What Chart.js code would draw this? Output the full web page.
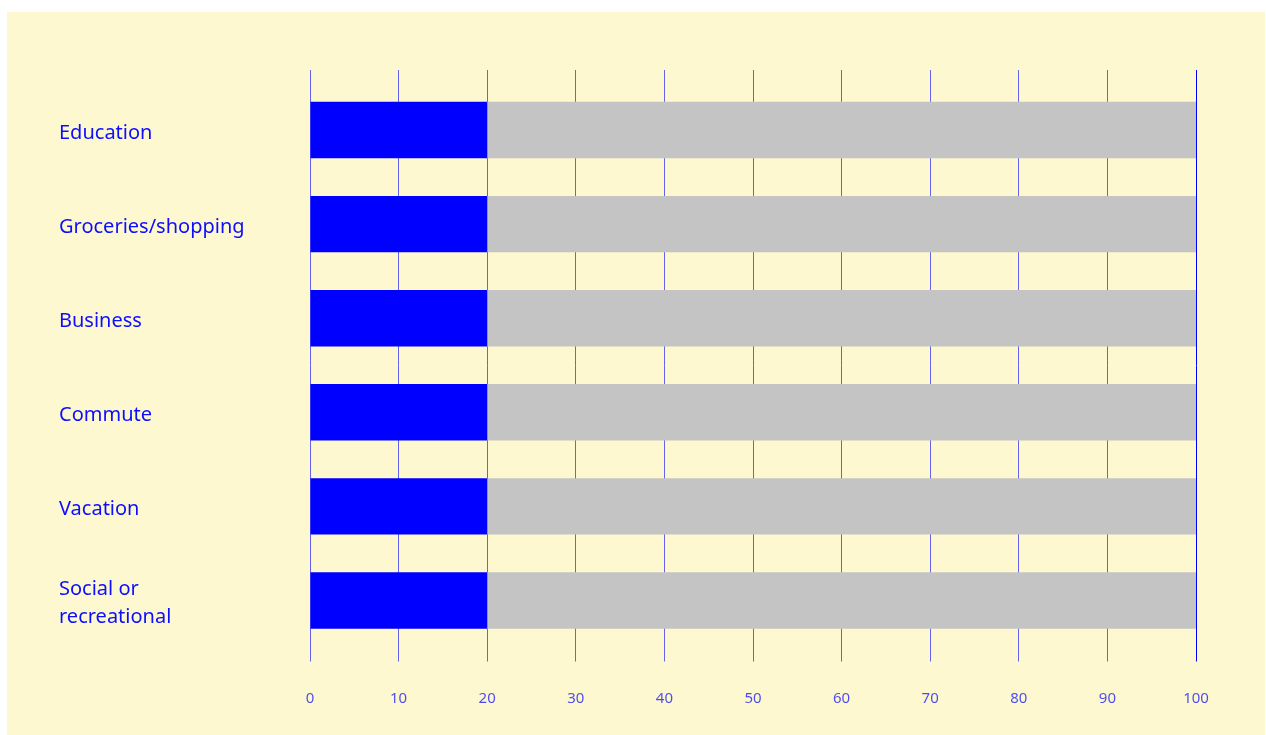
<!DOCTYPE html>
<html>
<head>
<meta charset="utf-8">
<script src="https://cdn.jsdelivr.net/npm/chart.js@4"></script>
<style>
  html, body { margin: 0; padding: 0; background: #ffffff; }
  #panel { position: absolute; left: 7px; top: 12px; width: 1258px; height: 723px; background: #fdf8cf; }
  canvas { display: block; }
</style>
</head>
<body>
<div id="panel"><canvas id="c" width="1258" height="723"></canvas></div>
<script>
const categories = ["Education", "Groceries/shopping", "Business", "Commute", "Vacation", ["Social or", "recreational"]];
const shareValues = [20, 20, 20, 20, 20, 20];
const restValues = [80, 80, 80, 80, 80, 80];
const xTickMin = 0;
const xTickMax = 100;
const xTickStep = 10;

const gridColor = (ctx) => (ctx.tick && ctx.tick.value === 100) ? '#0000ff' : 'rgba(0,0,255,0.6)';

new Chart(document.getElementById('c'), {
  type: 'bar',
  data: {
    labels: categories,
    datasets: [
      { label: 'Share', data: shareValues, backgroundColor: '#0000ff', borderWidth: 0 },
      { label: 'Rest', data: restValues, backgroundColor: '#c4c4c4', borderWidth: 0 }
    ]
  },
  options: {
    indexAxis: 'y',
    responsive: false,
    animation: false,
    devicePixelRatio: 1,
    layout: { padding: { left: 52, right: 69, top: 58, bottom: 30 } },
    datasets: { bar: { categoryPercentage: 1.0, barPercentage: 0.6 } },
    plugins: { legend: { display: false }, tooltip: { enabled: false } },
    scales: {
      x: {
        type: 'linear', position: 'bottom', stacked: true,
        min: xTickMin, max: xTickMax,
        ticks: { stepSize: xTickStep, color: 'rgba(0,0,255,0.7)', padding: 28,
                 font: { family: "'Noto Sans', sans-serif", size: 15 } },
        grid: { color: gridColor, lineWidth: 1, drawTicks: true, tickLength: 14 },
        border: { display: false },
        afterFit: (scale) => { scale.height = 57.5; }
      },
      x2: {
        type: 'linear', position: 'top',
        min: xTickMin, max: xTickMax,
        ticks: { stepSize: xTickStep, display: false },
        grid: { color: gridColor, lineWidth: 1, drawOnChartArea: false, drawTicks: true, tickLength: 13 },
        border: { display: false },
        afterFit: (scale) => { scale.height = 13; }
      },
      y: {
        stacked: true,
        ticks: { color: '#0d0dff', crossAlign: 'far', padding: 0, labelOffset: 3,
                 font: { family: "'Noto Sans', sans-serif", size: 20, lineHeight: 1.4 } },
        grid: { display: false },
        border: { display: false },
        afterFit: (scale) => { scale.width = 251; }
      }
    }
  }
});
</script>
</body>
</html>
